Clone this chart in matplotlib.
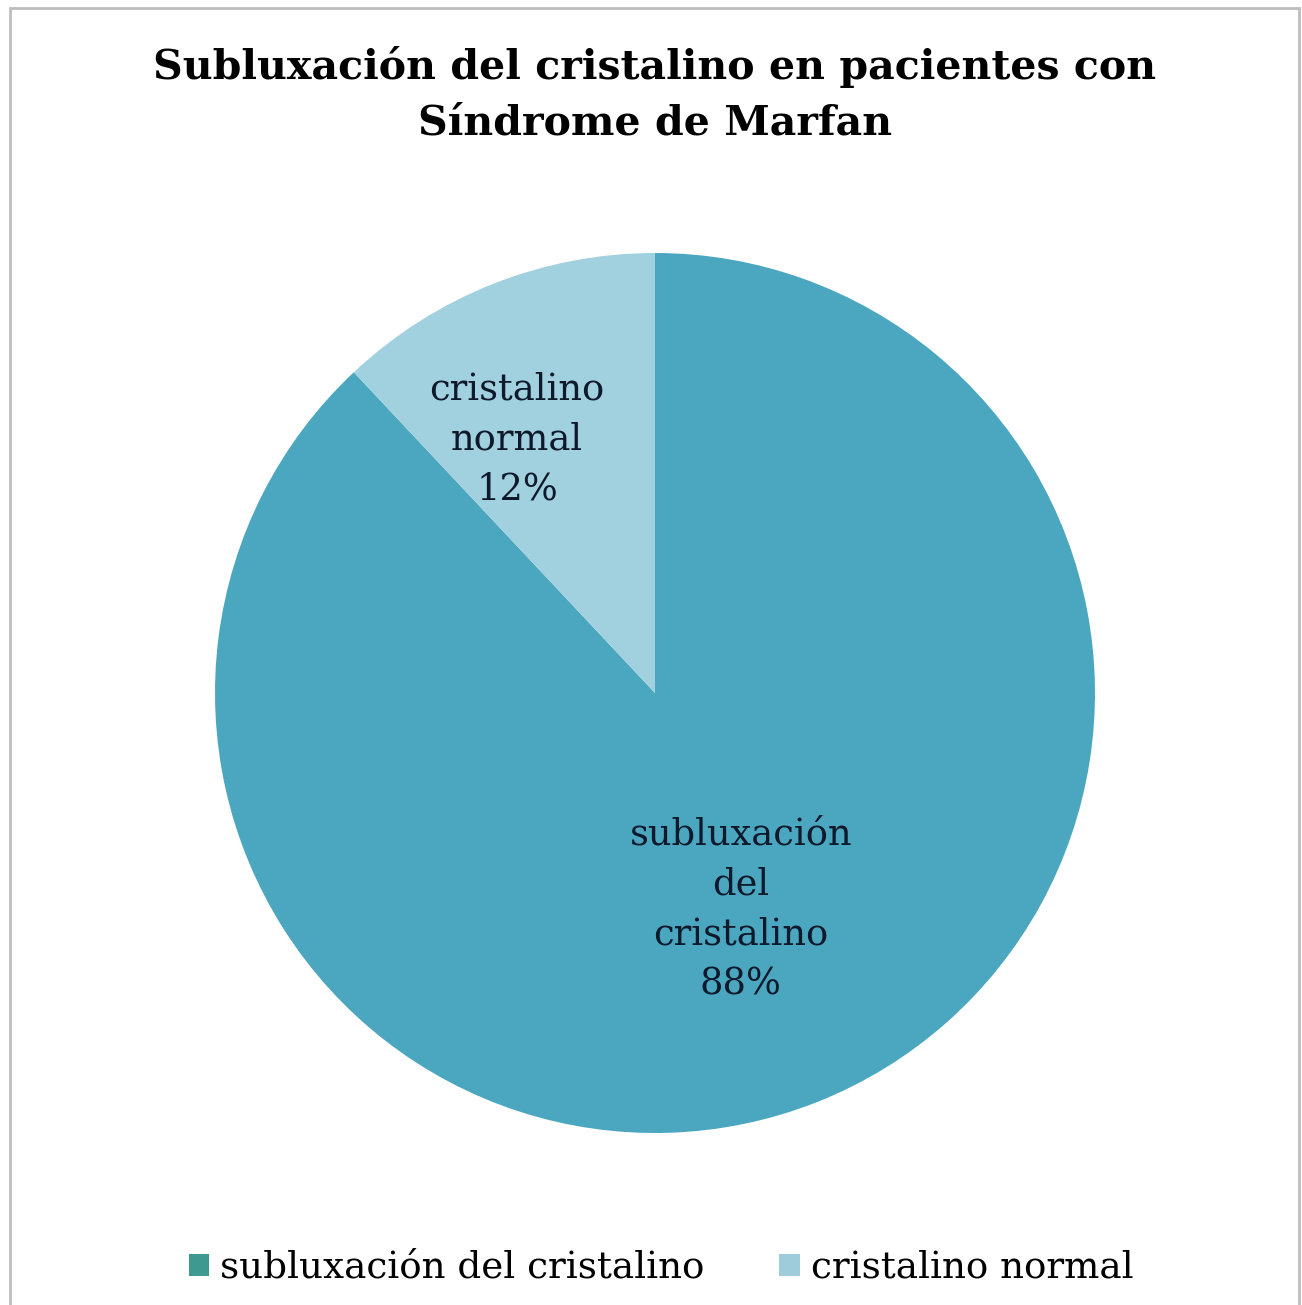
import numpy as np
import matplotlib
matplotlib.use("Agg")
import matplotlib.pyplot as plt
from matplotlib.patches import Rectangle, Patch

# datos
categorias = ["subluxación del cristalino", "cristalino normal"]
etiquetas = ["subluxación\ndel\ncristalino", "cristalino\nnormal"]
porcentajes = [88, 12]
colores = ["#4BA7BF", "#A1D0DF"]
colores_leyenda = ["#3E9A90", "#9FCCDB"]
dist_etiqueta = [0.53, 0.655]
giro_etiqueta = [0, 7]  # grados, ajuste "best fit" como en Excel

plt.rcParams["font.family"] = ["DejaVu Serif"]

fig = plt.figure(figsize=(13.02, 13.05), dpi=100)
fig.patch.set_facecolor("white")

# marco gris
fig.patches.append(Rectangle((10 / 1302, -0.02), 1289 / 1302, 1.02 - 8 / 1305,
                             transform=fig.transFigure, fill=False,
                             edgecolor="#BDBDBD", lw=2))

fig.text(0.503, 1 - 95 / 1305, "Subluxación del cristalino en pacientes con\nSíndrome de Marfan",
         ha="center", va="center", fontsize=29.6, fontweight="bold",
         linespacing=1.5, color="black")

# pie: centro (655, 693), radio 440 px
r_px = 440
cx, cy = 655, 693
ax = fig.add_axes([(cx - r_px) / 1302, 1 - (cy + r_px) / 1305,
                   2 * r_px / 1302, 2 * r_px / 1305])
wedges, _ = ax.pie(porcentajes, colors=colores, startangle=90, counterclock=False,
                   wedgeprops=dict(linewidth=0))
ax.set_aspect("equal")
ax.set_xlim(-1, 1)
ax.set_ylim(-1, 1)

for w, lab, p, d, g in zip(wedges, etiquetas, porcentajes, dist_etiqueta, giro_etiqueta):
    ang = np.deg2rad((w.theta1 + w.theta2) / 2 + g)
    ax.text(d * np.cos(ang), d * np.sin(ang), f"{lab}\n{p}%",
            ha="center", va="center", fontsize=26.5, color="#0E1A2B",
            linespacing=1.5)

handles = [Patch(facecolor=c, edgecolor="none") for c in colores_leyenda]
fig.legend(handles, categorias, loc="center", bbox_to_anchor=(661 / 1302, 1 - 1268 / 1305),
           ncol=2, frameon=False, fontsize=26.8, handlelength=0.55, handleheight=0.55,
           handletextpad=0.3, columnspacing=2.0)

fig.savefig("out.png", dpi=100, facecolor="white")
